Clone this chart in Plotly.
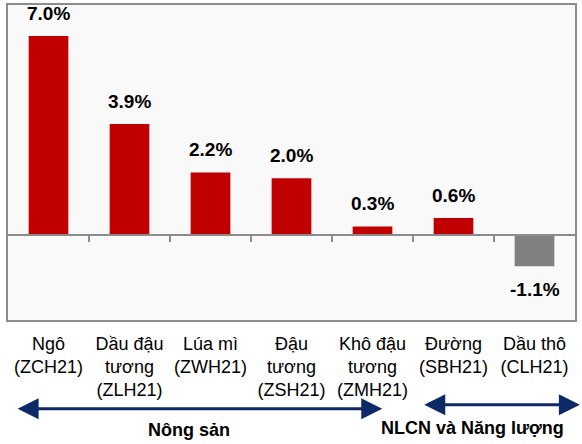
import plotly.graph_objects as go

categories = ["Ngô<br>(ZCH21)", "Dầu đậu<br>tương<br>(ZLH21)", "Lúa mì<br>(ZWH21)",
              "Đậu<br>tương<br>(ZSH21)", "Khô đậu<br>tương<br>(ZMH21)",
              "Đường<br>(SBH21)", "Dầu thô<br>(CLH21)"]
changes = [7.0, 3.9, 2.2, 2.0, 0.3, 0.6, -1.1]
value_labels = ["7.0%", "3.9%", "2.2%", "2.0%", "0.3%", "0.6%", "-1.1%"]
groups = ["Nông sản", "NLCN và Năng lượng"]

FONT = "Liberation Sans, Arial, sans-serif"
RED = "#c00000"
GREY = "#808080"
NAVY = "#0e2a66"
Y_MIN, Y_MAX = -2.99, 8.09

colors = [RED if v >= 0 else GREY for v in changes]

fig = go.Figure(go.Bar(x=list(range(len(categories))), y=changes, marker_color=colors,
                       marker_line_width=0, width=0.49, hoverinfo="skip"))
# empty trace so the zero-line axis (x2) gets drawn
fig.add_trace(go.Scatter(x=[], y=[], xaxis="x2", hoverinfo="skip"))

# value labels above / below each bar
for i, (v, lab) in enumerate(zip(changes, value_labels)):
    fig.add_annotation(x=i, y=v, text=f"<b>{lab}</b>", showarrow=False,
                       yanchor="bottom" if v >= 0 else "top",
                       yshift=10 if v >= 0 else -11,
                       font=dict(size=19, color="black", family=FONT))

# double-headed group arrows below the labels
arrows = [(-0.40, 4.12), (4.62, 6.56)]
arrow_y = [-0.282, -0.269]
for (x0, x1), ay in zip(arrows, arrow_y):
    fig.add_annotation(x=x1, ax=x0, xref="x", axref="x", y=ay, ay=0, yref="paper", ayref="pixel",
                       text="", showarrow=True, arrowside="end+start", arrowhead=2,
                       startarrowhead=2, arrowsize=1.4, startarrowsize=1.4,
                       arrowwidth=3, arrowcolor=NAVY)

fig.add_annotation(x=1.73, y=-0.349, xref="x", yref="paper", yanchor="middle",
                   text=f"<b>{groups[0]}</b>", showarrow=False,
                   font=dict(size=18, color="black", family=FONT))
fig.add_annotation(x=5.23, y=-0.343, xref="x", yref="paper", yanchor="middle",
                   text=f"<b>{groups[1]}</b>", showarrow=False,
                   font=dict(size=18, color="black", family=FONT))

fig.update_layout(
    width=582, height=444,
    margin=dict(l=8, r=7, t=5, b=124, autoexpand=False),
    paper_bgcolor="white", plot_bgcolor="#f9f9f9",
    showlegend=False,
    font=dict(family=FONT, size=18, color="black"),
    xaxis=dict(range=[-0.5, 6.5], tickmode="array", tickvals=list(range(len(categories))),
               ticktext=categories, showgrid=False, zeroline=False, automargin=False,
               showline=True, mirror=True, linecolor="#8c8c8c", linewidth=2,
               ticks="outside", ticklen=6, tickcolor="rgba(0,0,0,0)",
               tickfont=dict(size=18, family=FONT)),
    xaxis2=dict(range=[-0.5, 6.5], overlaying="x", anchor="free", automargin=False,
                position=(0 - Y_MIN) / (Y_MAX - Y_MIN), tickmode="array",
                tickvals=[0.5, 1.5, 2.5, 3.5, 4.5, 5.5], showticklabels=False,
                ticks="outside", ticklen=6, tickcolor="#8c8c8c", tickwidth=2,
                showgrid=False, zeroline=False, showline=True,
                linecolor="#8c8c8c", linewidth=2),
    yaxis=dict(range=[Y_MIN, Y_MAX], showgrid=False, zeroline=False, showticklabels=False,
               automargin=False, showline=True, mirror=True, linecolor="#8c8c8c", linewidth=2),
)

fig.write_html("out.html", config={"displayModeBar": False},
               post_script="document.body.style.margin='0';")
